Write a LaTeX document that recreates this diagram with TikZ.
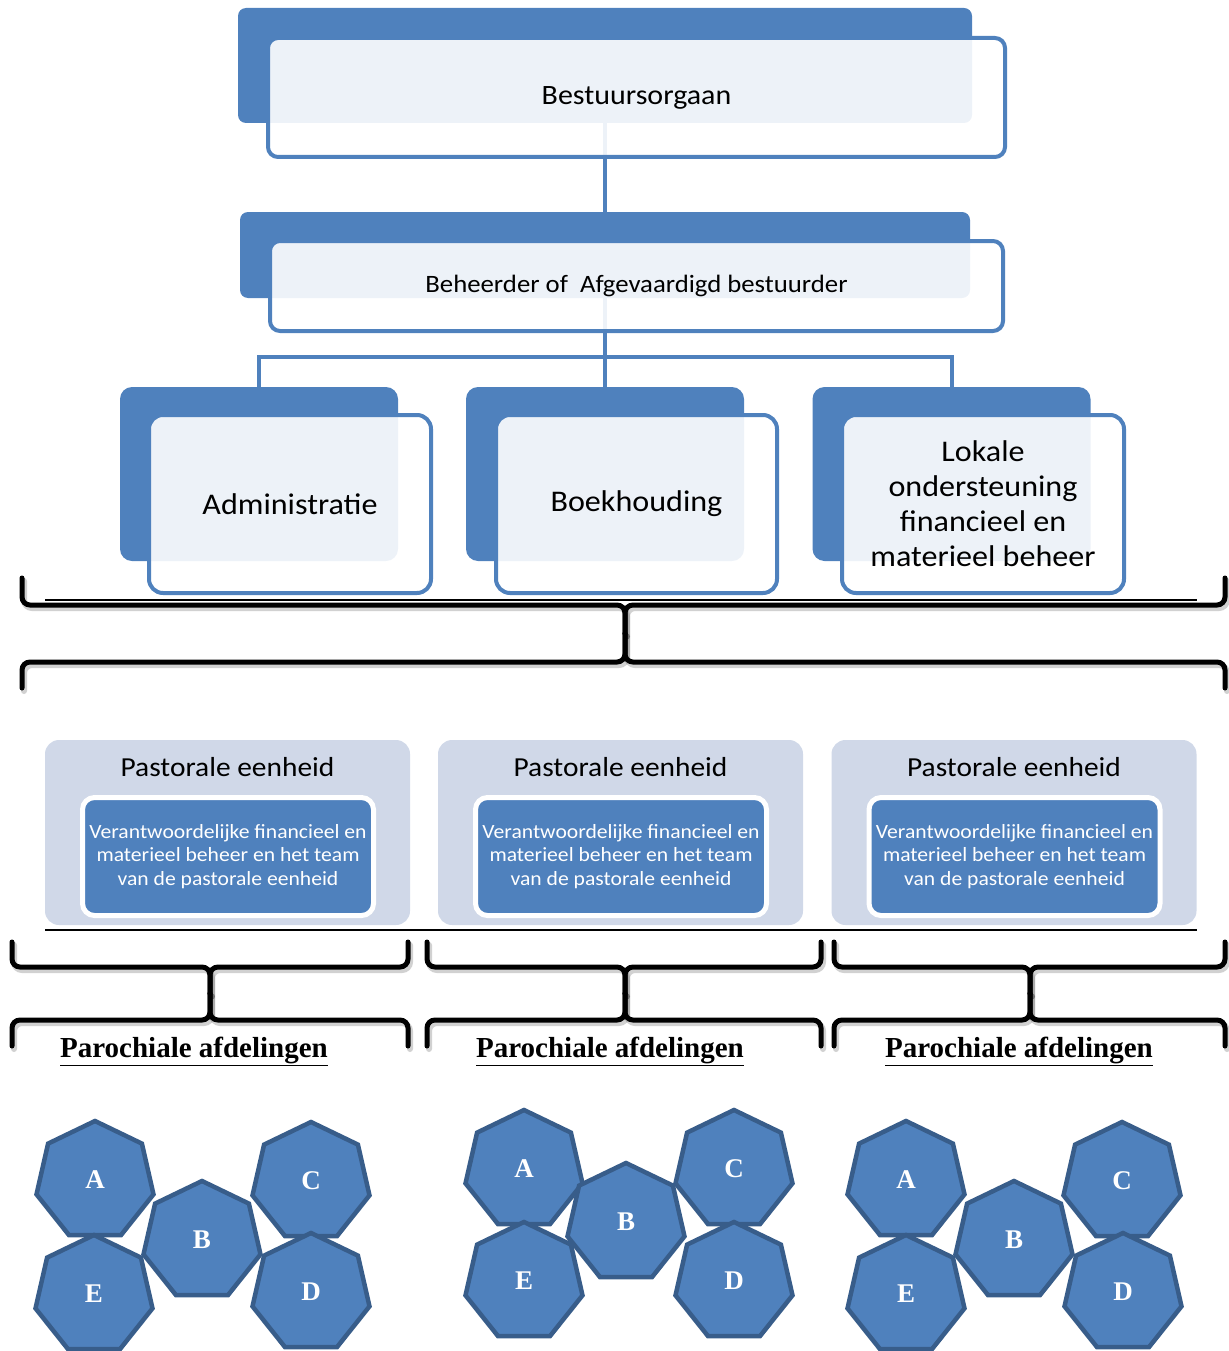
\documentclass[tikz,border=0pt]{standalone}
\usepackage{fontspec}
\setmainfont{Carlito}[FakeStretch=1.07]
\newfontfamily\gar{Liberation Serif}
\usetikzlibrary{shapes.geometric}
\definecolor{acc}{HTML}{4F81BD}
\definecolor{accd}{HTML}{385D8A}
\definecolor{pecol}{HTML}{D0D8E8}
\newcommand\dblbrace[7]{%
  % #1 left x, #2 centre x, #3 right x, #4 top end y, #5 upper bar y, #6 lower bar y, #7 bottom end y
  \begin{scope}[shift={(2,3)}]
    \draw[braceshadow] (#1,#4) -- (#1,#5) -- (#2,#5) -- (#2,{(#5+#6)/2});
    \draw[braceshadow] (#3,#4) -- (#3,#5) -- (#2,#5) -- (#2,{(#5+#6)/2});
    \draw[braceshadow] (#1,#7) -- (#1,#6) -- (#2,#6) -- (#2,{(#5+#6)/2});
    \draw[braceshadow] (#3,#7) -- (#3,#6) -- (#2,#6) -- (#2,{(#5+#6)/2});
  \end{scope}
  \draw[bracestyle] (#1,#4) -- (#1,#5) -- (#2,#5) -- (#2,{(#5+#6)/2});
  \draw[bracestyle] (#3,#4) -- (#3,#5) -- (#2,#5) -- (#2,{(#5+#6)/2});
  \draw[bracestyle] (#1,#7) -- (#1,#6) -- (#2,#6) -- (#2,{(#5+#6)/2});
  \draw[bracestyle] (#3,#7) -- (#3,#6) -- (#2,#6) -- (#2,{(#5+#6)/2});
}
\newcommand\hlet[1]{\raisebox{3pt}{#1}}
\begin{document}
\begin{tikzpicture}[x=1pt,y=-1pt,
  backbox/.style={rectangle, rounded corners=8pt, fill=acc, draw=none, inner sep=0pt, outer sep=0pt},
  frontbox/.style={rectangle, rounded corners=10pt, draw=acc, line width=4pt, fill=white,
     fill opacity=0.9, text opacity=1, inner sep=0pt, outer sep=0pt, align=center},
  conn/.style={draw=acc, line width=4pt},
  bracestyle/.style={draw=black, line width=5pt, rounded corners=8pt, line cap=round},
  braceshadow/.style={draw=black, opacity=0.18, line width=6pt, rounded corners=8pt, line cap=round},
  pebox/.style={rectangle, rounded corners=14pt, fill=pecol, minimum width=365pt, minimum height=185pt, inner sep=0pt},
  petitle/.style={font=\fontsize{27.5}{30}\selectfont, inner sep=0pt},
  peinner/.style={rectangle, rounded corners=12pt, fill=acc, draw=white, line width=5pt,
     minimum width=291pt, minimum height=118pt, text=white, align=center, inner sep=0pt,
     font=\fontsize{20.2}{23.5}\selectfont},
  hept/.style={regular polygon, regular polygon sides=7, minimum size=120pt, inner sep=0pt, outer sep=0pt,
     fill=acc, draw=accd, line width=4.5pt, text=white, font=\gar\bfseries\fontsize{27}{30}\selectfont},
  parlabel/.style={font=\gar\bfseries\fontsize{29}{32}\selectfont, inner sep=0pt}
]
\useasboundingbox (0,0) rectangle (1228,1351);

% back boxes
\node[backbox, minimum width=734pt, minimum height=115pt] (b1back) at (605,65.5) {};
\node[backbox, minimum width=730pt, minimum height=86pt] (b2back) at (605,255) {};
\node[backbox, rounded corners=12pt, minimum width=278pt, minimum height=174pt] (admback) at (259,474) {};
\node[backbox, rounded corners=12pt, minimum width=278pt, minimum height=174pt] (bkback) at (605,474) {};
\node[backbox, rounded corners=12pt, minimum width=278pt, minimum height=174pt] (lokback) at (951.5,474) {};

% connectors
\coordinate (bus) at (605,357);
\draw[conn] (b1back.south) -- (b2back.north);
\draw[conn] (b2back.south) -- (bkback.north);
\draw[conn] (admback.north) |- (bus) -| (lokback.north);

% front boxes
\node[frontbox, minimum width=737pt, minimum height=119pt, font=\fontsize{28}{32}\selectfont] (b1) at (636.5,97.5)
  {Bestuursorgaan};
\node[frontbox, minimum width=733pt, minimum height=90pt, font=\fontsize{25}{29}\selectfont] (b2) at (636.5,286)
  {Beheerder of\ \ Afgevaardigd bestuurder};
\node[frontbox, rounded corners=14pt, minimum width=282pt, minimum height=178pt, font=\fontsize{30}{35}\selectfont] (adm) at (290,504)
  {Administratie};
\node[frontbox, rounded corners=14pt, minimum width=281pt, minimum height=178pt, font=\fontsize{30}{35}\selectfont] (bk) at (636.5,504)
  {Boekhouding};
\node[frontbox, rounded corners=14pt, minimum width=282pt, minimum height=178pt, font=\fontsize{30}{35}\selectfont] (lok) at (983,504)
  {Lokale\\ondersteuning\\financieel en\\materieel beheer};

% thin rules
\draw[line width=2pt] (45,600) -- (1197,600);
\draw[line width=2pt] (45,930) -- (1197,930);

% big brace
\dblbrace{22}{625}{1225}{578}{605}{662}{688}

% pastorale eenheden
\foreach \n/\cx in {1/227.5, 2/620.5, 3/1014} {
  \node[pebox] (pe\n) at (\cx,832.5) {};
  \node[petitle] (pet\n) at (\cx,767) {Pastorale eenheid};
  \node[peinner] (pei\n) at (\cx+0.5,856.5) {Verantwoordelijke financieel en\\materieel beheer en het team\\van de pastorale eenheid};
}

% group braces
\dblbrace{12}{210}{408}{942}{967}{1020}{1046}
\dblbrace{427}{625}{821}{942}{967}{1020}{1046}
\dblbrace{834}{1030}{1225}{942}{967}{1020}{1046}

% labels
\node[parlabel] (par1) at (194,1051) {\underline{Parochiale afdelingen}};
\node[parlabel] (par2) at (610,1051) {\underline{Parochiale afdelingen}};
\node[parlabel] (par3) at (1019,1051) {\underline{Parochiale afdelingen}};

% heptagons group 1
\node[hept] (g1a) at (95,1181) {\hlet{A}};
\node[hept] (g1c) at (311,1182) {\hlet{C}};
\node[hept] (g1e) at (94,1295) {\hlet{E}};
\node[hept] (g1b) at (202,1241) {\hlet{B}};
\node[hept] (g1d) at (311,1293) {\hlet{D}};
% group 2
\node[hept] (g2a) at (524,1170) {\hlet{A}};
\node[hept] (g2c) at (734,1170) {\hlet{C}};
\node[hept] (g2e) at (524,1282) {\hlet{E}};
\node[hept] (g2b) at (626,1223) {\hlet{B}};
\node[hept] (g2d) at (734,1282) {\hlet{D}};
% group 3
\node[hept] (g3a) at (906,1181) {\hlet{A}};
\node[hept] (g3c) at (1122,1182) {\hlet{C}};
\node[hept] (g3e) at (906,1295) {\hlet{E}};
\node[hept] (g3b) at (1014,1241) {\hlet{B}};
\node[hept] (g3d) at (1123,1293) {\hlet{D}};
\end{tikzpicture}
\end{document}
